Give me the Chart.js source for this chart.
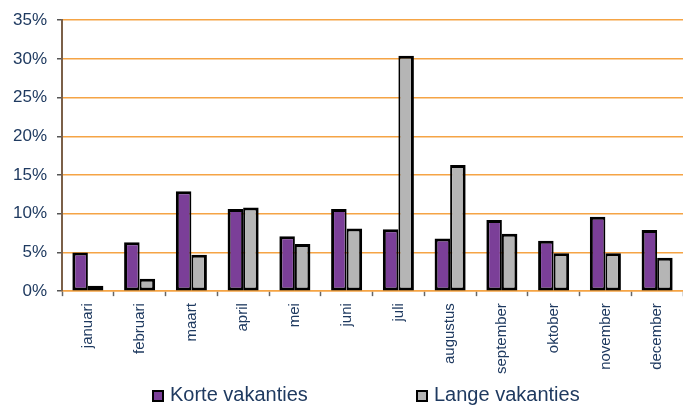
<!DOCTYPE html>
<html>
<head>
<meta charset="utf-8">
<title>Vakanties per maand</title>
<script src="https://cdn.jsdelivr.net/npm/chart.js@4.4.1/dist/chart.umd.min.js"></script>
<style>
    html, body { margin: 0; padding: 0; background: #fff; }
    #wrap { position: relative; width: 683px; height: 405px; }
    #legend {
        position: absolute; left: 0; top: 384px; width: 683px; height: 21px;
        font-family: "Liberation Sans", Arial, sans-serif; font-size: 20px; color: #1f3a60;
    }
    .item { position: absolute; top: 0; white-space: nowrap; line-height: 21px; }
    .box {
        display: inline-block; width: 8px; height: 8px; border: 2.5px solid #000;
        margin-right: 6px; vertical-align: -1px;
    }
</style>
</head>
<body>
<div id="wrap">
    <canvas id="vakantieChart" width="683" height="405"></canvas>
    <div id="legend"></div>
</div>
<script>
// Maanden en aandeel vakanties (in %)
const maanden = ["januari", "februari", "maart", "april", "mei", "juni",
    "juli", "augustus", "september", "oktober", "november", "december"];
const korteVakanties = [5.0, 6.3, 12.9, 10.6, 7.1, 10.6, 8.0, 6.8, 9.2, 6.5, 9.6, 7.9];
const langeVakanties = [0.7, 1.6, 4.7, 10.8, 6.1, 8.1, 30.4, 16.3, 7.4, 4.9, 4.9, 4.3];
const yTicks = [0, 5, 10, 15, 20, 25, 30, 35];

const fontFamily = '"Liberation Sans", Arial, sans-serif';
const textColor = "#1f3a60";

(function renderChart() {
    const canvas = document.getElementById("vakantieChart");
    if (!canvas) return;

    const chart = new Chart(canvas, {
        type: "bar",
        data: {
            labels: maanden,
            datasets: [
                {
                    label: "Korte vakanties",
                    data: korteVakanties,
                    backgroundColor: "#7b3f98",
                    borderColor: "#000",
                    // inner edge thinner, so the shared line between bars stays ~3px
                    borderWidth: { top: 3, right: 2, bottom: 3, left: 3 },
                    borderSkipped: false,
                },
                {
                    label: "Lange vakanties",
                    data: langeVakanties,
                    backgroundColor: "#b5b5b5",
                    borderColor: "#000",
                    borderWidth: { top: 3, right: 3, bottom: 3, left: 2 },
                    borderSkipped: false,
                },
            ],
        },
        options: {
            responsive: false,
            animation: false,
            datasets: {
                bar: { categoryPercentage: 0.6, barPercentage: 1 },
            },
            layout: { padding: { top: 20, right: 0, bottom: 24, left: 0 } },
            plugins: {
                legend: { display: false },
                tooltip: { enabled: false },
            },
            scales: {
                x: {
                    grid: {
                        drawOnChartArea: false,
                        tickLength: 5,
                        tickColor: "#666",
                        tickWidth: 1.5,
                    },
                    border: { color: "#f5a445", width: 1.5 },
                    ticks: {
                        minRotation: 90,
                        maxRotation: 90,
                        padding: 7,
                        color: textColor,
                        font: { family: fontFamily, size: 15 },
                    },
                },
                y: {
                    min: 0,
                    max: 35,
                    afterBuildTicks: (scale) => {
                        scale.ticks = yTicks.map((v) => ({ value: v }));
                    },
                    afterFit: (scale) => {
                        scale.width = 62;
                    },
                    grid: {
                        color: "#f5a445",
                        lineWidth: 1.5,
                        tickLength: 5,
                        tickColor: "#555",
                    },
                    border: { color: "#7b6048", width: 2 },
                    ticks: {
                        padding: 10,
                        color: textColor,
                        font: { family: fontFamily, size: 17 },
                        callback: (v) => v + "%",
                    },
                },
            },
        },
    });

    // HTML legend built from the datasets, placed like the original
    const legendEl = document.getElementById("legend");
    const legendX = [152, 416];
    legendEl.innerHTML = chart.data.datasets
        .map((ds, i) => `<span class="item" style="left:${legendX[i]}px">` +
            `<span class="box" style="background:${ds.backgroundColor}"></span>${ds.label}</span>`)
        .join("");
})();
</script>
</body>
</html>
